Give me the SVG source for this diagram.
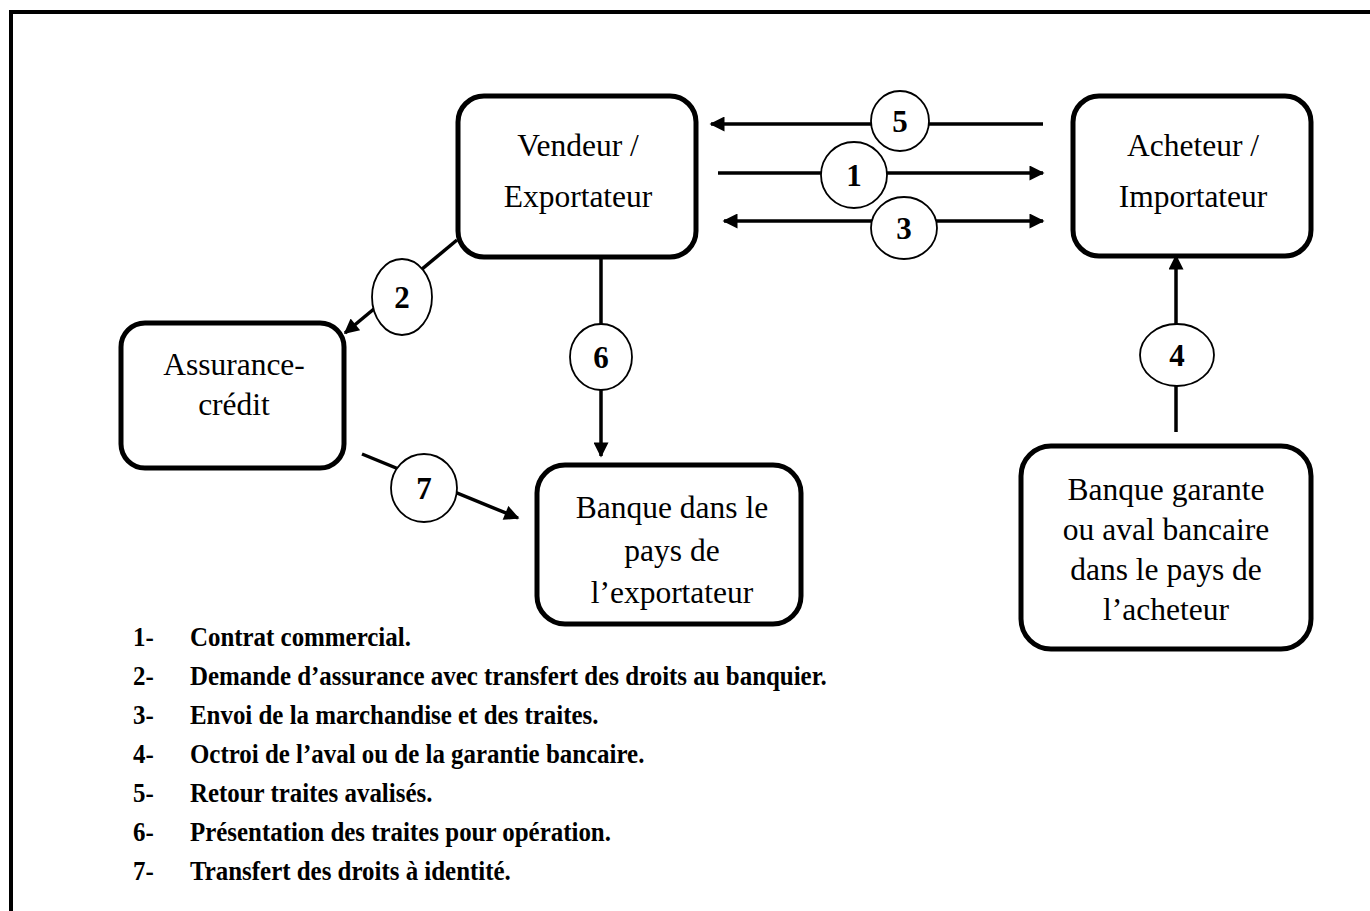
<svg xmlns="http://www.w3.org/2000/svg" width="1370" height="911" viewBox="0 0 1370 911">
  <style>
    .box { fill: #fff; stroke: #000; stroke-width: 5; }
    .lbl { font-family: "Liberation Serif", "Times New Roman", serif; font-size: 31.5px; fill: #000; text-anchor: middle; }
    .num { font-family: "Liberation Serif", "Times New Roman", serif; font-size: 31px; font-weight: bold; fill: #000; text-anchor: middle; }
    .leg { font-family: "Liberation Serif", "Times New Roman", serif; font-size: 28px; font-weight: bold; fill: #000; }
    .wire { fill: none; stroke: #000; stroke-width: 3.5; }
    .badge { fill: #fff; stroke: #000; stroke-width: 1.8; }
  </style>
  <defs>
    <marker id="tip" viewBox="0 0 10 10" refX="9" refY="5" markerWidth="17" markerHeight="15" markerUnits="userSpaceOnUse" orient="auto-start-reverse">
      <path d="M0,0 L10,5 L0,10 Z" fill="#000"/>
    </marker>
  </defs>

  <rect width="1370" height="911" fill="#fff"/>
  <!-- page frame -->
  <path d="M11,911 V12 H1370" fill="none" stroke="#000" stroke-width="4"/>

  <!-- nodes -->
  <g id="vendeur">
    <rect class="box" x="458" y="96" width="238" height="161" rx="26"/>
    <text class="lbl" x="578" y="156">Vendeur /</text>
    <text class="lbl" x="578" y="207">Exportateur</text>
  </g>
  <g id="acheteur">
    <rect class="box" x="1073" y="96" width="238" height="160" rx="26"/>
    <text class="lbl" x="1193" y="156">Acheteur /</text>
    <text class="lbl" x="1193" y="207">Importateur</text>
  </g>
  <g id="assurance">
    <rect class="box" x="121" y="323" width="223" height="145" rx="24"/>
    <text class="lbl" x="234" y="375">Assurance-</text>
    <text class="lbl" x="234" y="415">crédit</text>
  </g>
  <g id="banque-exportateur">
    <rect class="box" x="537" y="465" width="264" height="159" rx="28"/>
    <text class="lbl" x="672" y="518">Banque dans le</text>
    <text class="lbl" x="672" y="561">pays de</text>
    <text class="lbl" x="672" y="603">l’exportateur</text>
  </g>
  <g id="banque-garante">
    <rect class="box" x="1021" y="446" width="290" height="203" rx="30"/>
    <text class="lbl" x="1166" y="500">Banque garante</text>
    <text class="lbl" x="1166" y="540">ou aval bancaire</text>
    <text class="lbl" x="1166" y="580">dans le pays de</text>
    <text class="lbl" x="1166" y="620">l’acheteur</text>
  </g>

  <!-- connectors -->
  <g id="connectors">
    <line class="wire" x1="1043" y1="124" x2="711" y2="124" marker-end="url(#tip)"/>
    <line class="wire" x1="718" y1="173" x2="1043" y2="173" marker-end="url(#tip)"/>
    <line class="wire" x1="724" y1="221" x2="1043" y2="221" marker-start="url(#tip)" marker-end="url(#tip)"/>
    <line class="wire" x1="457" y1="240" x2="345" y2="333" marker-end="url(#tip)"/>
    <line class="wire" x1="601" y1="258" x2="601" y2="456" marker-end="url(#tip)"/>
    <line class="wire" x1="362" y1="454" x2="518" y2="518" marker-end="url(#tip)"/>
    <line class="wire" x1="1176" y1="432" x2="1176" y2="256" marker-end="url(#tip)"/>

    <g id="badge-5"><ellipse class="badge" cx="900" cy="121" rx="29" ry="30"/><text class="num" x="900" y="132">5</text></g>
    <g id="badge-1"><ellipse class="badge" cx="854" cy="175" rx="33" ry="33"/><text class="num" x="854" y="186">1</text></g>
    <g id="badge-3"><ellipse class="badge" cx="904" cy="228" rx="33" ry="31"/><text class="num" x="904" y="239">3</text></g>
    <g id="badge-2"><ellipse class="badge" cx="402" cy="297" rx="30" ry="38"/><text class="num" x="402" y="308">2</text></g>
    <g id="badge-6"><ellipse class="badge" cx="601" cy="357" rx="31" ry="33"/><text class="num" x="601" y="368">6</text></g>
    <g id="badge-7"><ellipse class="badge" cx="424" cy="488" rx="33" ry="34"/><text class="num" x="424" y="499">7</text></g>
    <g id="badge-4"><ellipse class="badge" cx="1177" cy="355" rx="37" ry="31"/><text class="num" x="1177" y="366">4</text></g>
  </g>

  <!-- legend: bold, slightly condensed -->
  <g id="legend" transform="matrix(0.89,0,0,1,14.63,0)">
    <text class="leg" x="133" y="646">1-</text><text class="leg" x="197" y="646">Contrat commercial.</text>
    <text class="leg" x="133" y="685">2-</text><text class="leg" x="197" y="685">Demande d’assurance avec transfert des droits au banquier.</text>
    <text class="leg" x="133" y="724">3-</text><text class="leg" x="197" y="724">Envoi de la marchandise et des traites.</text>
    <text class="leg" x="133" y="763">4-</text><text class="leg" x="197" y="763">Octroi de l’aval ou de la garantie bancaire.</text>
    <text class="leg" x="133" y="802">5-</text><text class="leg" x="197" y="802">Retour traites avalisés.</text>
    <text class="leg" x="133" y="841">6-</text><text class="leg" x="197" y="841">Présentation des traites pour opération.</text>
    <text class="leg" x="133" y="880">7-</text><text class="leg" x="197" y="880">Transfert des droits à identité.</text>
  </g>
</svg>
